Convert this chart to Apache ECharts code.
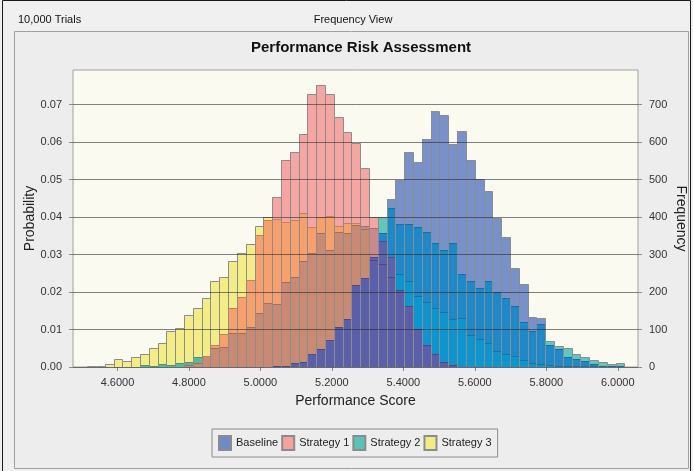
<!DOCTYPE html>
<html>
<head>
<meta charset="utf-8">
<title>Performance Risk Assessment</title>
<script src="https://cdn.jsdelivr.net/npm/echarts@6/dist/echarts.min.js"></script>
<style>
html, body { margin: 0; padding: 0; background: #f0f0f0; }
#chart { width: 693px; height: 471px; }
</style>
</head>
<body>
<div id="chart"></div>
<script>
// histogram bins (61 bins, left edge of first bin and width)
var binStart = 4.51513;
var binWidth = 0.02465;
var trials = 10000;

// frequency per bin
var baseline = [
    0, 0, 0, 0, 0, 0, 0, 0, 0, 0,
    0, 0, 0, 0, 0, 0, 0, 0, 0, 0,
    0, 2, 4, 10, 14, 35, 48, 72, 108, 127,
    219, 237, 294, 357, 448, 499, 574, 548, 608, 684,
    673, 596, 629, 553, 502, 471, 398, 348, 265, 221,
    134, 130, 60, 47, 28, 21, 16, 8, 4, 2, 2
];
var strategy1 = [
    0, 0, 0, 0, 0, 0, 0, 0, 0, 0,
    0, 5, 12, 30, 60, 87, 158, 188, 233, 353,
    393, 453, 552, 573, 621, 729, 753, 729, 668, 626,
    597, 530, 401, 335, 294, 205, 163, 101, 60, 36,
    14, 5, 0, 0, 0, 0, 0, 0, 0, 0,
    0, 0, 0, 0, 0, 0, 0, 0, 0, 0, 0
];
var strategy2 = [
    0, 0, 0, 0, 0, 0, 5, 2, 8, 5,
    10, 13, 26, 29, 51, 54, 90, 90, 108, 145,
    172, 168, 228, 239, 284, 305, 357, 312, 361, 358,
    380, 376, 370, 401, 424, 382, 382, 374, 359, 330,
    312, 330, 249, 230, 210, 230, 201, 183, 163, 119,
    97, 115, 69, 57, 52, 36, 26, 19, 14, 7, 12
];
var strategy3 = [
    2, 3, 7, 22, 15, 26, 36, 52, 63, 95,
    104, 140, 157, 183, 230, 241, 283, 303, 327, 377,
    400, 394, 388, 391, 412, 373, 400, 403, 376, 383,
    384, 368, 285, 275, 241, 248, 229, 190, 173, 158,
    146, 127, 130, 85, 76, 63, 43, 36, 30, 19,
    12, 7, 5, 3, 4, 2, 2, 3, 1, 1, 0
];

var seriesNames = ['Baseline', 'Strategy 1', 'Strategy 2', 'Strategy 3'];
var xTicks = [4.6, 4.8, 5.0, 5.2, 5.4, 5.6, 5.8, 6.0];
var probTicks = [0, 0.01, 0.02, 0.03, 0.04, 0.05, 0.06, 0.07];
var freqTicks = [0, 100, 200, 300, 400, 500, 600, 700];

var legendColors = ['#6f8ac8', '#f5a19d', '#56c4b9', '#f2ea84'];
// colour of each region, by which histograms overlap there
var keys = ['B', 'P', 'T', 'Y'];
var overlapColors = {
    B: '#7891c9', P: '#f6a6a2', T: '#5fc7bc', Y: '#f4ec87',
    PY: '#f6a06d', TY: '#55ba98', PT: '#c98a8e', PTY: '#c98a73',
    BT: '#1e88c9', BTY: '#0c95cf', BPT: '#5c62ab', BPTY: '#5b5ea9',
    BP: '#8e72b0', BY: '#6aa0a8', BPY: '#7e6ca8'
};

var yMax = 0.07926;
var fMax = yMax * trials;

var rows = [];
for (var i = 0; i < baseline.length; i++) {
    var x0 = binStart + i * binWidth;
    rows.push([x0, x0 + binWidth,
        baseline[i] / trials, strategy1[i] / trials,
        strategy2[i] / trials, strategy3[i] / trials]);
}

function darken(hex, f) {
    var n = parseInt(hex.slice(1), 16);
    var r = Math.round(((n >> 16) & 255) * f);
    var g = Math.round(((n >> 8) & 255) * f);
    var b = Math.round((n & 255) * f);
    return 'rgb(' + r + ',' + g + ',' + b + ')';
}

function renderBin(params, api) {
    var h = [api.value(2), api.value(3), api.value(4), api.value(5)];
    var levels = [];
    h.forEach(function (v) {
        if (v > 0 && levels.indexOf(v) < 0) levels.push(v);
    });
    levels.sort(function (a, b) { return a - b; });
    if (!levels.length) return;
    var left = Math.round(api.coord([api.value(0), 0])[0]);
    var right = Math.round(api.coord([api.value(1), 0])[0]);
    var base = Math.round(api.coord([api.value(0), 0])[1]);
    var children = [];
    var prevY = base;
    levels.forEach(function (top, k) {
        var cover = '';
        for (var j = 0; j < 4; j++) {
            if (h[j] >= top) cover += keys[j];
        }
        var color = overlapColors[cover] || '#999999';
        var yTop = Math.round(api.coord([api.value(0), top])[1]);
        children.push({
            type: 'rect',
            shape: { x: left, y: yTop, width: right - left, height: prevY - yTop },
            style: { fill: color }
        });
        if (k < levels.length - 1) {
            children.push({
                type: 'line',
                shape: { x1: left, y1: yTop + 0.5, x2: right, y2: yTop + 0.5 },
                style: { stroke: darken(color, 0.8), lineWidth: 1 }
            });
        }
        prevY = yTop;
    });
    children.push({
        type: 'rect',
        shape: { x: left + 0.5, y: prevY + 0.5, width: right - left, height: base - prevY },
        style: { fill: 'none', stroke: '#8c8c8c', lineWidth: 1 }
    });
    return { type: 'group', children: children };
}

var font = 'Liberation Sans, Arial, sans-serif';
var chartDom = document.getElementById('chart');
var myChart = echarts.init(chartDom);

var legendSeries = seriesNames.map(function (name, k) {
    return {
        name: name,
        type: 'bar',
        data: [],
        itemStyle: { color: legendColors[k], borderColor: '#8c8c8c', borderWidth: 1 }
    };
});

var option = {
    backgroundColor: '#f0f0f0',
    animation: false,
    title: {
        text: 'Performance Risk Assessment',
        left: 356,
        top: 35,
        textAlign: 'center',
        textStyle: { fontFamily: font, fontSize: 15, fontWeight: 'bold', color: '#111' }
    },
    graphic: [
        {
            type: 'rect', z: -10, silent: true,
            shape: { x: 2.5, y: 0.5, width: 688, height: 480 },
            style: { fill: '#f0f0f0', stroke: '#1a1a1a', lineWidth: 1 }
        },
        {
            type: 'rect', z: -9, silent: true,
            shape: { x: 14.5, y: 31.5, width: 674, height: 437 },
            style: { fill: '#ededed', stroke: '#a0a0a0', lineWidth: 1 }
        },
        {
            type: 'text', x: 18, y: 20, silent: true,
            style: { text: '10,000 Trials', font: '11px ' + font, fill: '#111', verticalAlign: 'middle' }
        },
        {
            type: 'text', x: 353, y: 20, silent: true,
            style: { text: 'Frequency View', font: '11px ' + font, fill: '#111', align: 'center', verticalAlign: 'middle' }
        }
    ],
    legend: {
        data: seriesNames,
        left: 212,
        top: 429,
        padding: [6, 6],
        itemWidth: 12,
        itemHeight: 14,
        itemGap: 3,
        borderColor: '#8c8c8c',
        borderWidth: 1,
        icon: 'rect',
        textStyle: { fontFamily: font, fontSize: 11, color: '#222' }
    },
    grid: {
        left: 73,
        right: 55,
        top: 70,
        bottom: 104,
        outerBoundsMode: 'none',
        show: true,
        backgroundColor: '#fafaf1',
        borderColor: '#a0a0a0',
        borderWidth: 1
    },
    xAxis: {
        type: 'value',
        min: 4.4756,
        max: 6.0566,
        name: 'Performance Score',
        nameLocation: 'middle',
        nameGap: 27,
        nameMoveOverlap: false,
        nameTextStyle: { fontFamily: font, fontSize: 14, color: '#222' },
        axisLine: { show: false },
        axisTick: { customValues: xTicks, length: 4, lineStyle: { color: '#8c8c8c' } },
        axisLabel: {
            customValues: xTicks,
            margin: 10,
            fontFamily: font,
            fontSize: 11,
            color: '#333',
            formatter: function (v) { return v.toFixed(4); }
        },
        splitLine: { show: false }
    },
    yAxis: [
        {
            type: 'value',
            min: 0,
            max: yMax,
            interval: 0.01,
            z: 5,
            name: 'Probability',
            nameLocation: 'middle',
            nameGap: 36,
            nameMoveOverlap: false,
            nameTextStyle: { fontFamily: font, fontSize: 14, color: '#222' },
            axisLine: { show: false },
            axisTick: { show: true, customValues: probTicks, length: 4, lineStyle: { color: '#8c8c8c' } },
            axisLabel: {
                customValues: probTicks,
                margin: 11,
                fontFamily: font,
                fontSize: 11,
                color: '#333',
                formatter: function (v) { return v.toFixed(2); }
            },
            splitLine: { show: true, lineStyle: { color: 'rgba(40,40,40,0.58)', width: 1 } }
        },
        {
            type: 'value',
            position: 'right',
            min: 0,
            max: fMax,
            interval: 100,
            name: 'Frequency',
            nameLocation: 'middle',
            nameRotate: -90,
            nameGap: 36,
            nameMoveOverlap: false,
            nameTextStyle: { fontFamily: font, fontSize: 14, color: '#222' },
            axisLine: { show: false },
            axisTick: { show: true, customValues: freqTicks, length: 4, lineStyle: { color: '#8c8c8c' } },
            axisLabel: {
                customValues: freqTicks,
                margin: 11,
                fontFamily: font,
                fontSize: 11,
                color: '#333'
            },
            splitLine: { show: false }
        }
    ],
    series: [
        {
            name: 'Histograms',
            type: 'custom',
            renderItem: renderBin,
            clip: true,
            encode: { x: [0, 1], y: [2, 3, 4, 5] },
            data: rows
        }
    ].concat(legendSeries)
};
myChart.setOption(option);

window.addEventListener('resize', function () {
    myChart.resize();
});
</script>
</body>
</html>
